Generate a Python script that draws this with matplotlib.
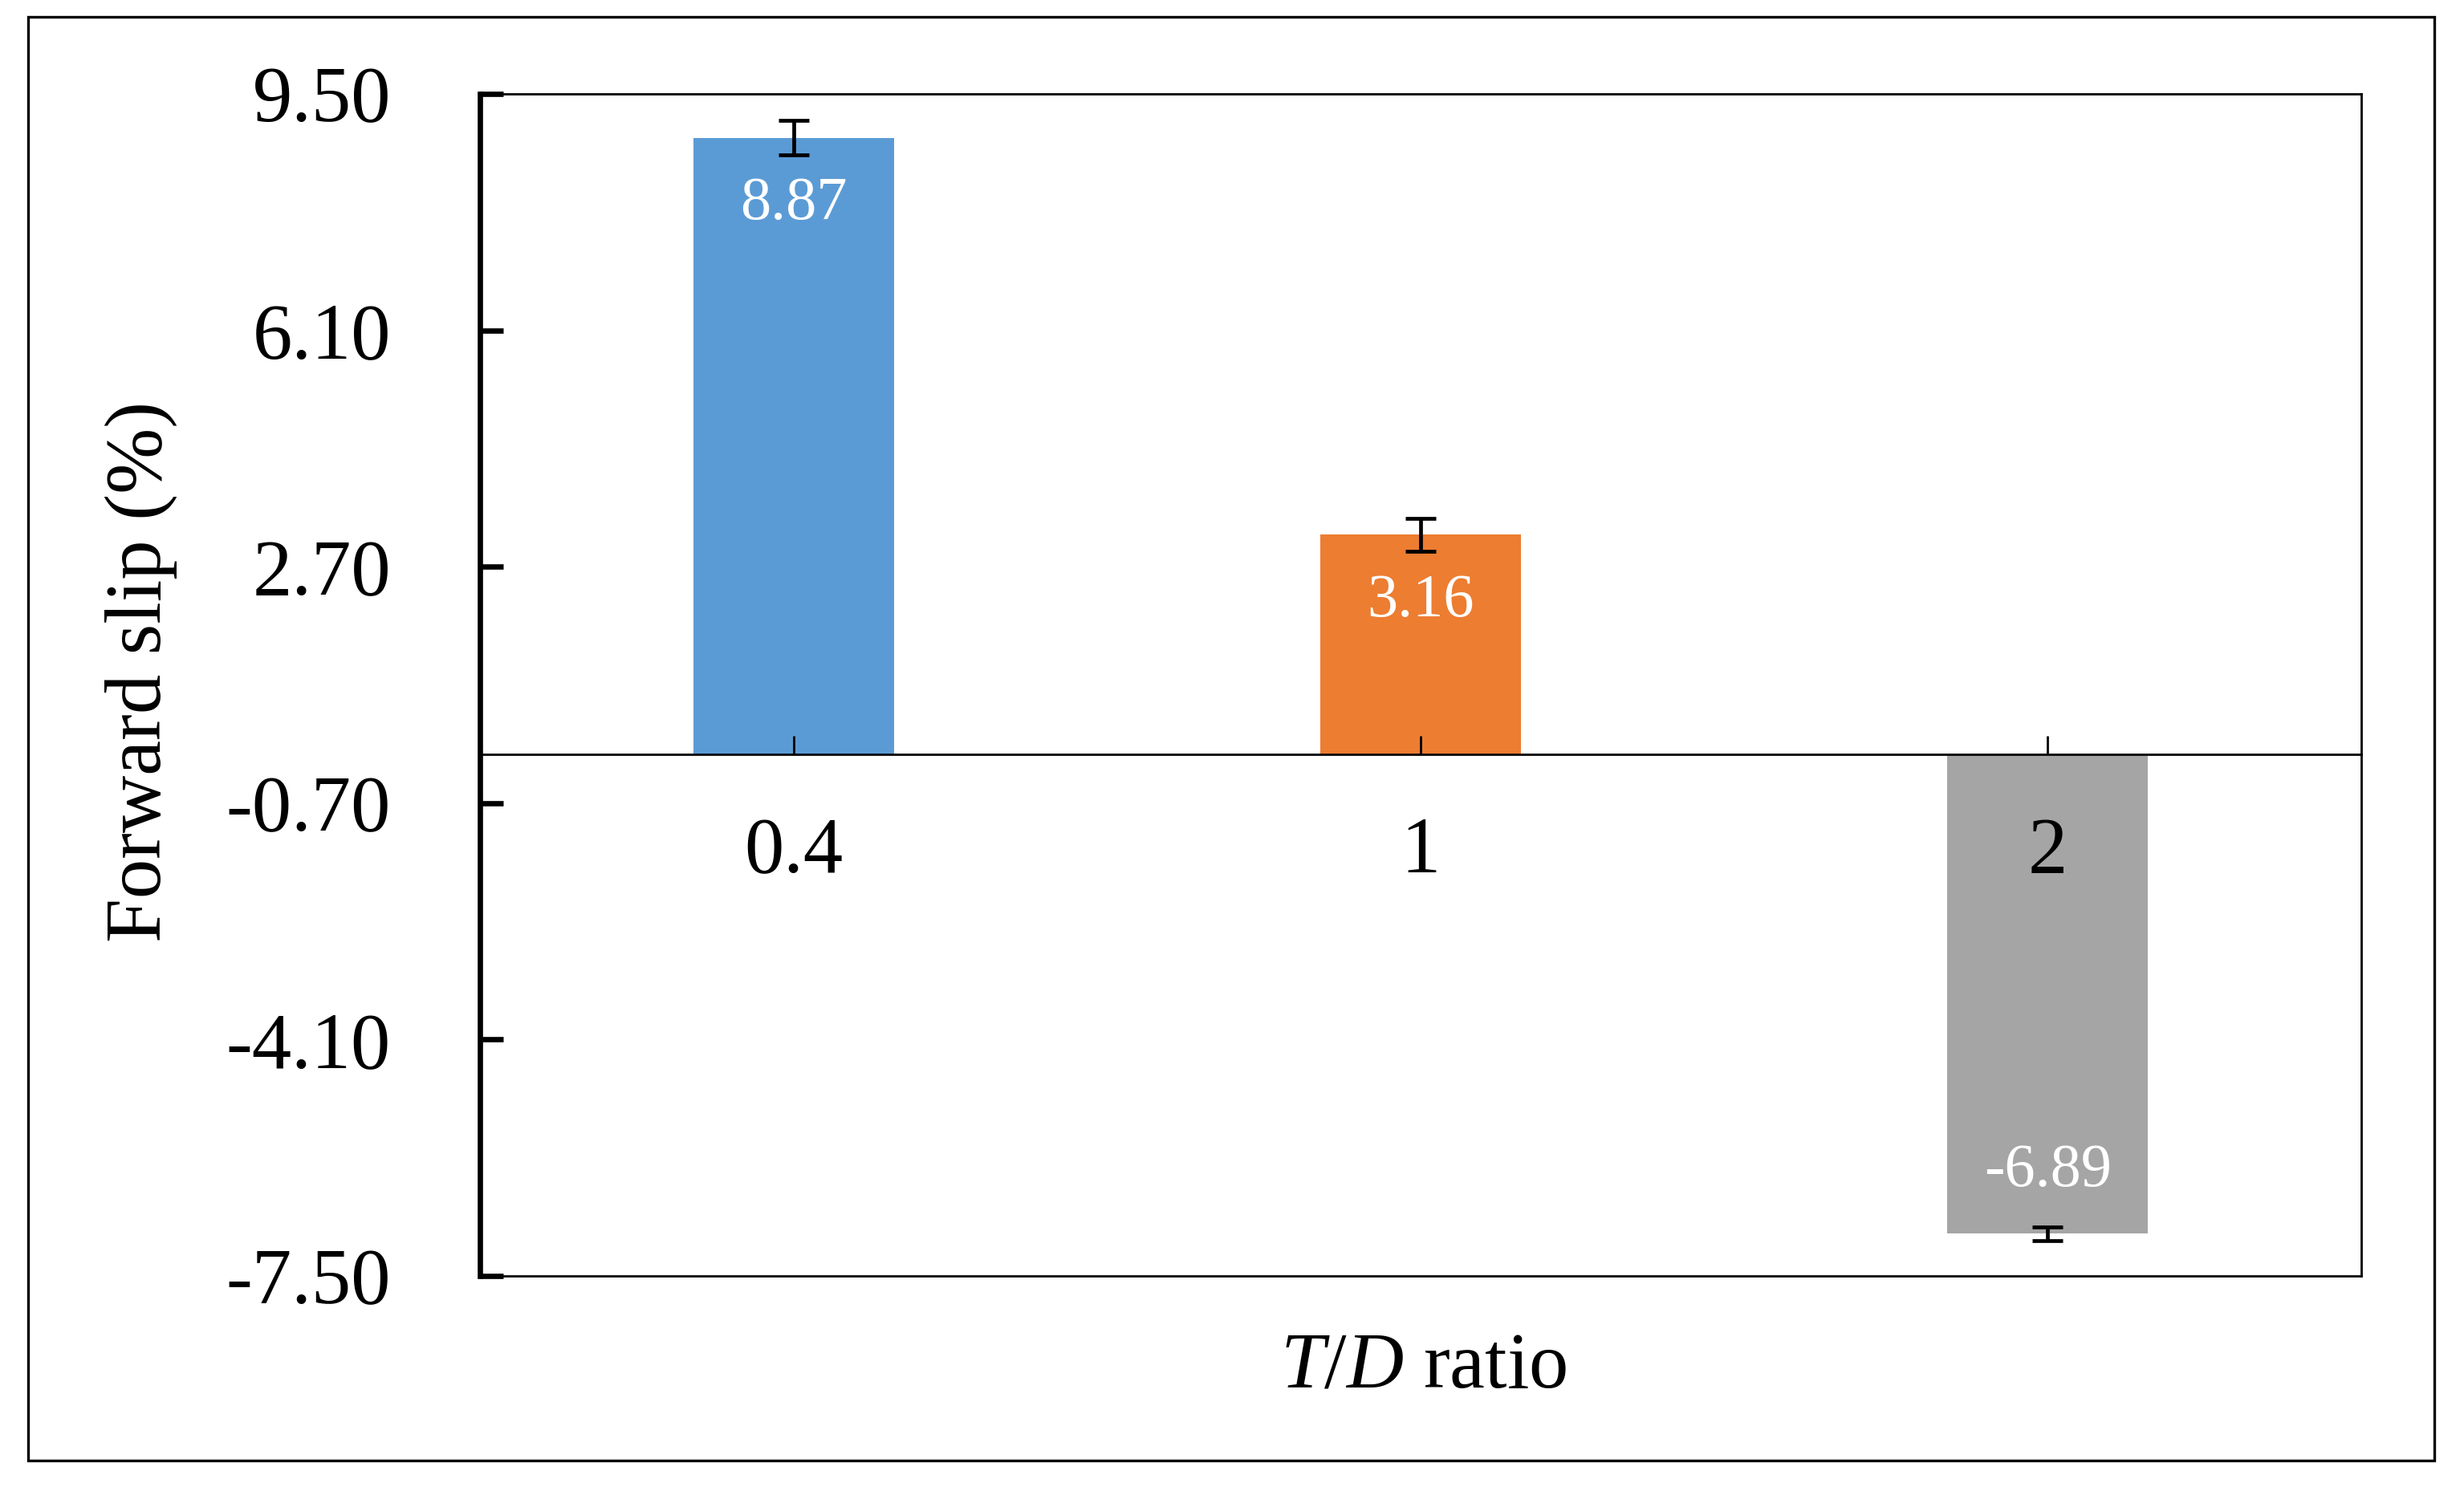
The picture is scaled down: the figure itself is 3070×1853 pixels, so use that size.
import matplotlib
matplotlib.use("Agg")
import matplotlib.pyplot as plt
from matplotlib.patches import Rectangle

# ---------------------------------------------------------------------------
# Data
# ---------------------------------------------------------------------------
categories = ["0.4", "1", "2"]
slip_values = [8.87, 3.16, -6.89]
slip_errors = [0.245, 0.24, 0.10]
bar_colors = ["#5B9BD5", "#ED7D31", "#A5A5A5"]
y_ticks = [-7.50, -4.10, -0.70, 2.70, 6.10, 9.50]

plt.rcParams["font.family"] = ["Liberation Serif", "DejaVu Serif"]
plt.rcParams["mathtext.fontset"] = "custom"
plt.rcParams["mathtext.rm"] = "Liberation Serif"
plt.rcParams["mathtext.it"] = "Liberation Serif:italic"

fig = plt.figure(figsize=(30.70, 18.53), dpi=100)
ax = fig.add_axes([0.1948, 0.1419, 0.7635, 0.795])

x = list(range(len(categories)))
ax.bar(x, slip_values, width=0.32, color=bar_colors, zorder=1)
ax.errorbar(x, slip_values, yerr=slip_errors, fmt="none", ecolor="black",
            elinewidth=3.4, capsize=13.5, capthick=3.4, zorder=3)

for xi, v in zip(x, slip_values):
    off = -60 if v > 0 else 56
    ax.annotate(f"{v:.2f}", (xi, v), xytext=(0, off), textcoords="offset points",
                ha="center", va="center", color="white", fontsize=55, zorder=4)

ax.set_xlim(-0.5, 2.5)
ax.set_ylim(y_ticks[0], y_ticks[-1])
ax.set_yticks(y_ticks)
ax.set_yticklabels([f"{t:.2f}" for t in y_ticks])
ax.set_xticks(x)
ax.set_xticklabels(categories)

# x axis sits on zero, plain box line at the bottom
ax.spines["bottom"].set_position(("data", 0))
ax.spines["bottom"].set_linewidth(2.0)
ax.spines["top"].set_linewidth(2.0)
ax.spines["right"].set_linewidth(2.0)
ax.spines["left"].set_linewidth(4.8)
ax.axhline(y_ticks[0], color="black", linewidth=2.0, clip_on=False, zorder=2.5)

ax.tick_params(axis="y", direction="in", length=21, width=4.8, pad=80,
               labelsize=71, right=False)
ax.tick_params(axis="x", direction="in", length=16.5, width=2.0, pad=56,
               labelsize=71, top=False)

ax.set_ylabel("Forward slip (%)", fontsize=71, va="center")
ax.yaxis.set_label_coords(-0.18, 0.511)
ax.set_xlabel("$T$/$D$ ratio", fontsize=71, va="center")
ax.xaxis.set_label_coords(0.5017, -0.078)

# outer frame around the whole figure
fig.patches.append(Rectangle((35 / 3070, 1 - 1820 / 1853),
                             (3033 - 35) / 3070, (1820 - 21) / 1853,
                             transform=fig.transFigure, fill=False,
                             edgecolor="black", linewidth=2.4))

fig.savefig("out.png", dpi=100)
